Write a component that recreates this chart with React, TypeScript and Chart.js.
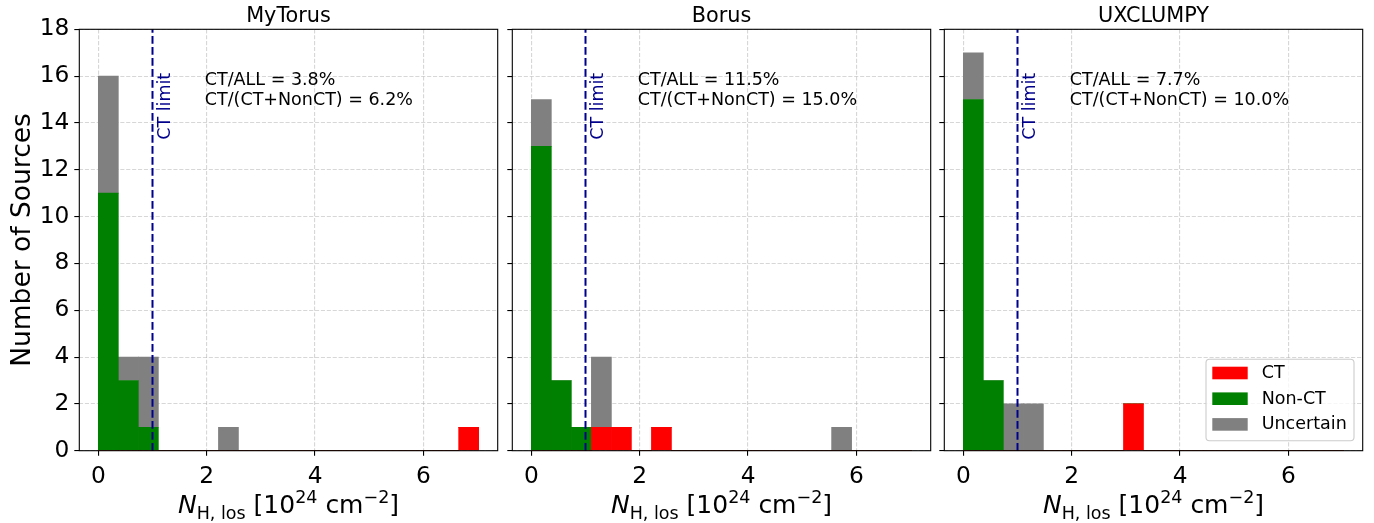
import React, { useEffect, useRef } from "react";
import { Chart, registerables } from "chart.js";

Chart.register(...registerables);

// Histogram binning: 19 equal bins covering 0 – 7.02 (units of 10^24 cm^-2)
const BIN_COUNT = 19;
const BIN_UPPER = 7.02;
const CT_LIMIT = 1.0;

const xTickValues = [0, 2, 4, 6];
const yTickValues = [0, 2, 4, 6, 8, 10, 12, 14, 16, 18];

const seriesLabels = ["CT", "Non-CT", "Uncertain"];
const seriesColors = ["#ff0000", "#008000", "#808080"];

const modelNames = ["MyTorus", "Borus", "UXCLUMPY"];

// Number of sources per N_H bin, one array per class and model
const myTorusCT = [0, 0, 0, 0, 0, 0, 0, 0, 0, 0, 0, 0, 0, 0, 0, 0, 0, 0, 1];
const myTorusNonCT = [11, 3, 1, 0, 0, 0, 0, 0, 0, 0, 0, 0, 0, 0, 0, 0, 0, 0, 0];
const myTorusUncertain = [5, 1, 3, 0, 0, 0, 1, 0, 0, 0, 0, 0, 0, 0, 0, 0, 0, 0, 0];

const borusCT = [0, 0, 0, 1, 1, 0, 1, 0, 0, 0, 0, 0, 0, 0, 0, 0, 0, 0, 0];
const borusNonCT = [13, 3, 1, 0, 0, 0, 0, 0, 0, 0, 0, 0, 0, 0, 0, 0, 0, 0, 0];
const borusUncertain = [2, 0, 0, 3, 0, 0, 0, 0, 0, 0, 0, 0, 0, 0, 0, 1, 0, 0, 0];

const uxclumpyCT = [0, 0, 0, 0, 0, 0, 0, 0, 2, 0, 0, 0, 0, 0, 0, 0, 0, 0, 0];
const uxclumpyNonCT = [15, 3, 0, 0, 0, 0, 0, 0, 0, 0, 0, 0, 0, 0, 0, 0, 0, 0, 0];
const uxclumpyUncertain = [2, 0, 2, 2, 0, 0, 0, 0, 0, 0, 0, 0, 0, 0, 0, 0, 0, 0, 0];

// Fractions quoted in each panel
const ctAllLabels = ["3.8%", "11.5%", "7.7%"];
const ctNonCtLabels = ["6.2%", "15.0%", "10.0%"];

const panelCounts = [
  [myTorusCT, myTorusNonCT, myTorusUncertain],
  [borusCT, borusNonCT, borusUncertain],
  [uxclumpyCT, uxclumpyNonCT, uxclumpyUncertain],
];

// ---- page layout ----
const W = 1374;
const H = 523;
const AX_TOP = 29.3;
const AX_BOTTOM = 450.7;
const AX_WIDTH = 418.4;
const AX_LEFTS = [79.3, 512.3, 944.3];
const X_MIN = -0.351;
const X_MAX = 7.371;

const FONT = '"DejaVu Sans", "Liberation Sans", sans-serif';
const TEXT_SIZE = 17.5;
const TICK_SIZE = 23.3;
const LIMIT_COLOR = "#00008b";
const GRID_COLOR = "rgba(176,176,176,0.5)";

const binWidth = BIN_UPPER / BIN_COUNT;
const binCenters = Array.from({ length: BIN_COUNT }, (_, i) => (i + 0.5) * binWidth);

function drawXLabel(ctx: CanvasRenderingContext2D, cx: number, baseline: number) {
  const big = 25;
  const small = 17.5;
  const parts = [
    { t: "N", f: `italic ${big}px ${FONT}`, dy: 0 },
    { t: "H, los", f: `${small}px ${FONT}`, dy: 5.5 },
    { t: " [10", f: `${big}px ${FONT}`, dy: 0 },
    { t: "24", f: `${small}px ${FONT}`, dy: -10 },
    { t: " cm", f: `${big}px ${FONT}`, dy: 0 },
    { t: "\u22122", f: `${small}px ${FONT}`, dy: -10 },
    { t: "]", f: `${big}px ${FONT}`, dy: 0 },
  ];
  let total = 0;
  const widths = parts.map((p) => {
    ctx.font = p.f;
    const w = ctx.measureText(p.t).width;
    total += w;
    return w;
  });
  let x = cx - total / 2;
  ctx.fillStyle = "#000";
  ctx.textAlign = "left";
  ctx.textBaseline = "alphabetic";
  parts.forEach((p, i) => {
    ctx.font = p.f;
    ctx.fillText(p.t, x, baseline + p.dy);
    x += widths[i];
  });
}

function makePlugin(index: number) {
  return {
    id: "panelDecor" + index,
    afterDatasetsDraw(chart: any) {
      const { ctx, chartArea: a, scales } = chart;
      const xl = scales.x.getPixelForValue(CT_LIMIT);
      ctx.save();
      // CT threshold
      ctx.strokeStyle = LIMIT_COLOR;
      ctx.lineWidth = 2;
      ctx.setLineDash([7.7, 3.3]);
      ctx.beginPath();
      ctx.moveTo(xl, a.bottom);
      ctx.lineTo(xl, a.top);
      ctx.stroke();
      ctx.setLineDash([]);
      // frame
      ctx.strokeStyle = "#000";
      ctx.lineWidth = 1.1;
      ctx.strokeRect(a.left, a.top, a.right - a.left, a.bottom - a.top);
      ctx.restore();
    },
    afterDraw(chart: any) {
      const { ctx, chartArea: a, scales } = chart;
      const xl = scales.x.getPixelForValue(CT_LIMIT);
      const cx = (a.left + a.right) / 2;
      ctx.save();

      // panel title
      ctx.fillStyle = "#000";
      ctx.font = `20.8px ${FONT}`;
      ctx.textAlign = "center";
      ctx.textBaseline = "alphabetic";
      ctx.fillText(modelNames[index], cx, 22);

      // threshold label
      ctx.save();
      ctx.translate(xl + 17.8, a.top + 43.5);
      ctx.rotate(-Math.PI / 2);
      ctx.fillStyle = LIMIT_COLOR;
      ctx.font = `${TEXT_SIZE}px ${FONT}`;
      ctx.textAlign = "right";
      ctx.textBaseline = "alphabetic";
      ctx.fillText("CT limit", 0, 0);
      ctx.restore();

      // fractions
      ctx.fillStyle = "#000";
      ctx.font = `${TEXT_SIZE}px ${FONT}`;
      ctx.textAlign = "left";
      ctx.textBaseline = "alphabetic";
      const tx = a.left + 0.3 * (a.right - a.left);
      ctx.fillText(`CT/ALL = ${ctAllLabels[index]}`, tx, a.top + 56);
      ctx.fillText(`CT/(CT+NonCT) = ${ctNonCtLabels[index]}`, tx, a.top + 76);

      // x axis label
      drawXLabel(ctx, cx, 513);

      // y axis label on the first panel
      if (index === 0) {
        ctx.save();
        ctx.translate(30, (a.top + a.bottom) / 2);
        ctx.rotate(-Math.PI / 2);
        ctx.fillStyle = "#000";
        ctx.font = `26.5px ${FONT}`;
        ctx.textAlign = "center";
        ctx.textBaseline = "alphabetic";
        ctx.fillText("Number of Sources", 0, 0);
        ctx.restore();
      }

      // legend in the last panel
      if (index === 2) {
        const bw = 148;
        const bh = 81.4;
        const bx = a.right - 8.7 - bw;
        const by = a.bottom - 10 - bh;
        ctx.beginPath();
        if ((ctx as any).roundRect) (ctx as any).roundRect(bx, by, bw, bh, 3.5);
        else ctx.rect(bx, by, bw, bh);
        ctx.fillStyle = "rgba(255,255,255,0.8)";
        ctx.fill();
        ctx.strokeStyle = "#cccccc";
        ctx.lineWidth = 1.1;
        ctx.stroke();
        chart.data.datasets.forEach((ds: any, i: number) => {
          const rowC = by + 13.7 + i * 25.7;
          ctx.fillStyle = ds.backgroundColor;
          ctx.fillRect(bx + 6.3, rowC - 6.3, 35.4, 12.6);
          ctx.fillStyle = "#000";
          ctx.font = `${TEXT_SIZE}px ${FONT}`;
          ctx.textAlign = "left";
          ctx.textBaseline = "middle";
          ctx.fillText(ds.label, bx + 55.7, rowC + 0.5);
        });
      }
      ctx.restore();
    },
  };
}

function makeConfig(index: number): any {
  const left = AX_LEFTS[index];
  const right = left + AX_WIDTH;
  const datasets = seriesLabels.map((label, s) => ({
    label,
    data: panelCounts[index][s].map((y, i) => ({ x: binCenters[i], y })),
    backgroundColor: seriesColors[s],
    borderWidth: 0,
    barPercentage: 1,
    categoryPercentage: 1,
  }));
  return {
    type: "bar",
    data: { datasets },
    options: {
      responsive: false,
      animation: false,
      events: [],
      layout: {
        padding: { left: 0, right: W - right, top: AX_TOP, bottom: 0 },
      },
      plugins: {
        legend: { display: false },
        title: { display: false },
        tooltip: { enabled: false },
      },
      scales: {
        x: {
          type: "linear",
          min: X_MIN,
          max: X_MAX,
          stacked: true,
          offset: false,
          afterBuildTicks: (s: any) => {
            s.ticks = xTickValues.map((v) => ({ value: v }));
          },
          afterFit: (s: any) => {
            s.height = H - AX_BOTTOM;
          },
          ticks: {
            autoSkip: false,
            maxRotation: 0,
            minRotation: 0,
            padding: 7.5,
            color: "#000",
            font: { family: FONT, size: TICK_SIZE },
            callback: (v: any) => String(v),
          },
          grid: {
            offset: false,
            color: GRID_COLOR,
            lineWidth: 1.1,
            drawTicks: true,
            tickLength: 5,
            tickColor: "#000",
            tickWidth: 1.1,
            tickBorderDash: [],
          },
          border: { display: false, dash: [4.1, 1.8] },
        },
        y: {
          type: "linear",
          min: 0,
          max: 18,
          stacked: true,
          afterBuildTicks: (s: any) => {
            s.ticks = yTickValues.map((v) => ({ value: v }));
          },
          afterFit: (s: any) => {
            s.width = left;
          },
          ticks: {
            display: index === 0,
            padding: 5,
            color: "#000",
            font: { family: FONT, size: TICK_SIZE },
            callback: (v: any) => String(v),
          },
          grid: {
            color: GRID_COLOR,
            lineWidth: 1.1,
            drawTicks: true,
            tickLength: 5,
            tickColor: "#000",
            tickWidth: 1.1,
            tickBorderDash: [],
          },
          border: { display: false, dash: [4.1, 1.8] },
        },
      },
    },
    plugins: [makePlugin(index)],
  };
}

export default function App() {
  const r0 = useRef<HTMLCanvasElement>(null);
  const r1 = useRef<HTMLCanvasElement>(null);
  const r2 = useRef<HTMLCanvasElement>(null);
  const refs = [r0, r1, r2];

  useEffect(() => {
    const charts = refs.map((r, i) => new Chart(r.current as HTMLCanvasElement, makeConfig(i)));
    return () => charts.forEach((c) => c.destroy());
  }, []);

  return (
    <div style={{ position: "absolute", left: 0, top: 0, width: W, height: H, background: "#fff" }}>
      {refs.map((r, i) => (
        <canvas
          key={i}
          ref={r}
          width={W}
          height={H}
          style={{ position: "absolute", left: 0, top: 0, width: W, height: H }}
        />
      ))}
    </div>
  );
}
